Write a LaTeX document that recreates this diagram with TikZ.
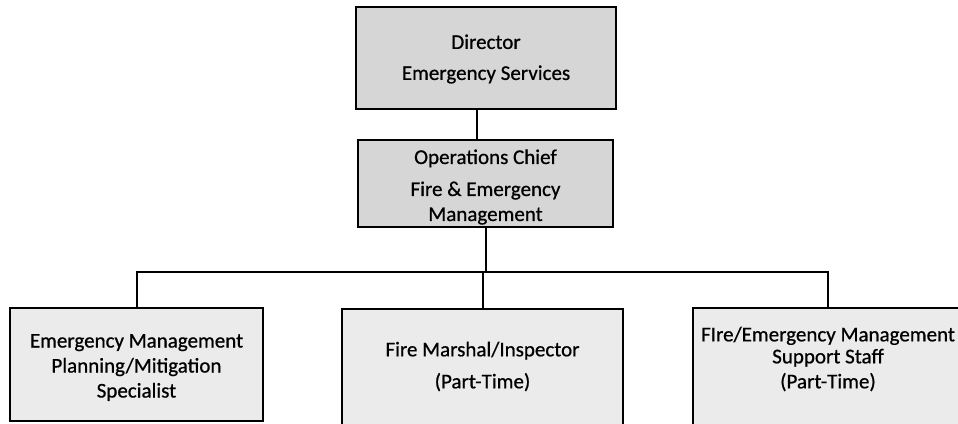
\documentclass[tikz,border=0pt]{standalone}
\usepackage{fontspec}
\setmainfont{Carlito}[FakeBold=0.7]
\begin{document}
\begin{tikzpicture}[x=1pt,y=-1pt,
  unitbox/.style={draw=black, line width=2pt, rectangle, inner sep=0pt},
  topfill/.style={unitbox, fill=black!16},
  lowfill/.style={unitbox, fill=black!8},
  caption/.style={align=center, inner sep=0pt, text=black,
    font=\fontsize{21}{25}\selectfont},
  link/.style={line width=2pt, line cap=rect}
]
\useasboundingbox (0,0) rectangle (958,423);

% boxes
\node[topfill, minimum width=260pt, minimum height=102pt] (dir)  at (486,58)    {};
\node[topfill, minimum width=255pt, minimum height=87pt]  (ops)  at (485.5,183.5) {};
\node[lowfill, minimum width=253pt, minimum height=113pt] (lbox) at (136.5,364.5) {};
\node[lowfill, minimum width=281pt, minimum height=131pt] (mbox) at (482.5,374.5) {};
\node[lowfill, minimum width=270pt, minimum height=132pt] (rbox) at (828,374)    {};

% captions
\node[caption, font=\fontsize{21}{31}\selectfont] (dirtxt) at (486,59)
  {Director\\Emergency Services};
\node[caption] (opstxt) at (485.5,187)
  {Operations Chief\\[7pt]Fire \& Emergency\\Management};
\node[caption] (ltxt) at (136.5,367.5)
  {Emergency Management\\Planning/Mitigation\\Specialist};
\node[caption, font=\fontsize{21}{32}\selectfont] (mtxt) at (482.5,366.5)
  {Fire Marshal/Inspector\\(Part-Time)};
\node[caption, font=\fontsize{21}{22}\selectfont] (rtxt) at (828,359)
  {FIre/Emergency Management\\Support Staff\\[3pt](Part-Time)};

% connectors
\coordinate (bus) at (486,272);
\draw[link] ([xshift=-9pt]dir.south) -- ([xshift=-9pt]dir.south |- ops.north);
\draw[link] (ops.south -| bus) -- (bus);
\draw[link] (lbox.north) -- (lbox.north |- bus) -- (rbox.north |- bus) -- (rbox.north);
\draw[link] (mbox.north) -- (mbox.north |- bus);
\end{tikzpicture}
\end{document}
